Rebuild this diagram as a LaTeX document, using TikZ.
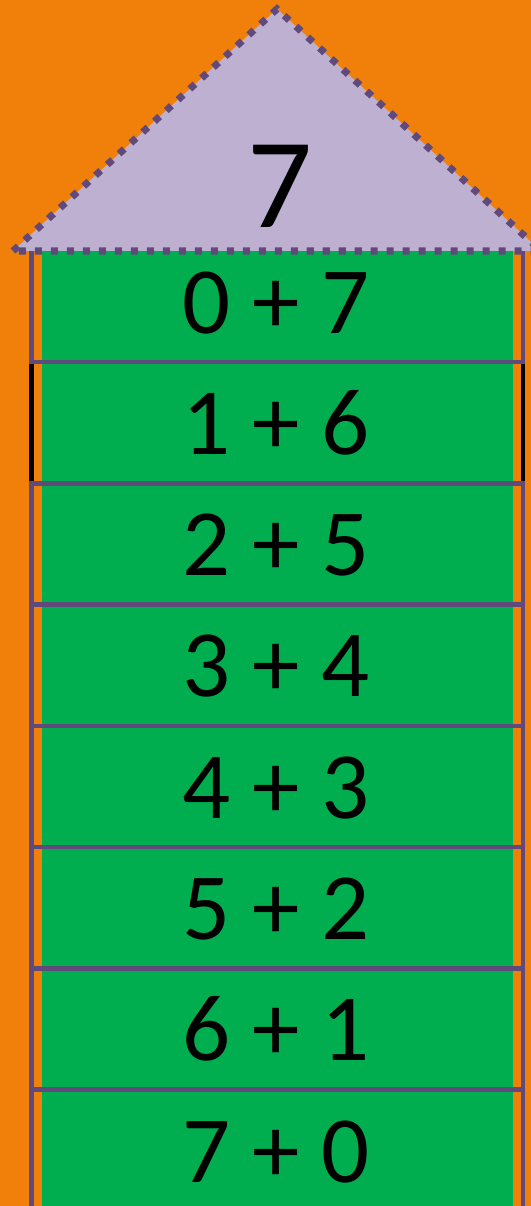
\documentclass[tikz,border=0pt]{standalone}
\usepackage{fontspec}
\setmainfont{Carlito}
\definecolor{houseorange}{HTML}{F0800A}
\definecolor{housegreen}{HTML}{00AD4F}
\definecolor{rooflilac}{HTML}{BDB0D1}
\definecolor{lineviolet}{HTML}{604A7B}
\begin{document}
\begin{tikzpicture}[x=1cm,y=1cm,
    rowbox/.style={draw=lineviolet,line width=2.3pt},
    sumtext/.style={anchor=base,inner sep=0pt,
        font=\fontsize{54}{60}\selectfont}]
    % Hintergrund und Hauswand.
    \useasboundingbox (0,0) rectangle (10.62,24.12);
    \fill[houseorange] (0,0) rectangle (10.62,24.12);
    \fill[housegreen] (0.84,-0.10) rectangle (10.26,19.31);

    % Stockwerke.
    \draw[rowbox] (0.63,19.31) rectangle (10.46,16.88);
    \draw[rowbox] (0.63,16.88) rectangle (10.46,14.45);
    \draw[rowbox] (0.63,14.45) rectangle (10.46,12.03);
    \draw[rowbox] (0.63,12.03) rectangle (10.46,9.60);
    \draw[rowbox] (0.63,9.60) rectangle (10.46,7.18);
    \draw[rowbox] (0.63,7.18) rectangle (10.46,4.75);
    \draw[rowbox] (0.63,4.75) rectangle (10.46,2.33);
    \draw[rowbox] (0.63,2.33) rectangle (10.46,-0.10);
    \draw[black,line width=2.3pt] (0.63,16.84) -- (0.63,14.49);
    \draw[black,line width=2.3pt] (10.46,16.84) -- (10.46,14.49);

    \node[sumtext] (sum0) at (5.52,17.45) {0 + 7};
    \node[sumtext] (sum1) at (5.52,15.03) {1 + 6};
    \node[sumtext] (sum2) at (5.52,12.60) {2 + 5};
    \node[sumtext] (sum3) at (5.52,10.18) {3 + 4};
    \node[sumtext] (sum4) at (5.52,7.75) {4 + 3};
    \node[sumtext] (sum5) at (5.52,5.33) {5 + 2};
    \node[sumtext] (sum6) at (5.52,2.90) {6 + 1};
    \node[sumtext] (sum7) at (5.52,0.48) {7 + 0};

    % Dach.
    \filldraw[fill=rooflilac,draw=lineviolet,line width=4pt,
        dash pattern=on 4pt off 5.1pt]
        (0.26,19.10) -- (5.54,23.94) -- (10.82,19.10) -- cycle;
    \node[anchor=base,inner sep=0pt,font=\fontsize{73}{80}\selectfont]
        (total) at (5.60,19.56) {7};
\end{tikzpicture}
\end{document}
